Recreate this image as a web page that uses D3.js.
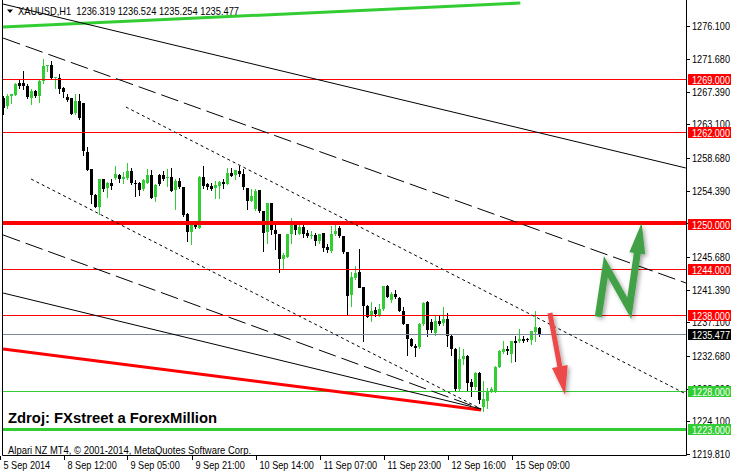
<!DOCTYPE html>
<html><head><meta charset="utf-8">
<script src="https://cdn.jsdelivr.net/npm/d3@7"></script>
<style>body{margin:0;background:#fff}svg{display:block}</style>
</head><body>
<svg id="c" width="734" height="475"></svg>
<script>
// ---- DATA ----
const symbolTitle = "XAUUSD,H1  1236.319 1236.524 1235.254 1235.477";
const sourceNote = "Zdroj: FXstreet a ForexMillion";
const footerNote = "Alpari NZ MT4, \u00A9 2001-2014, MetaQuotes Software Corp.";

const open = [1266.61,1265.51,1266.74,1267.04,1268.57,1268.49,1268.14,1266.61,1267.48,1266.83,
1268.79,1270.72,1270.89,1269.23,1269.23,1267.83,1266.69,1266.61,1264.55,1266.17,
1265.95,1259.52,1257.20,1253.83,1252.26,1255.89,1254.80,1255.45,1256.02,1256.46,
1255.98,1256.11,1256.98,1255.45,1255.45,1254.58,1255.45,1256.46,1253.48,1256.46,
1256.41,1256.11,1256.20,1254.45,1255.67,1254.88,1251.30,1248.98,1249.98,1249.55,
1256.20,1255.32,1255.02,1254.67,1255.02,1255.54,1255.23,1256.76,1256.41,1256.98,
1256.55,1254.80,1253.05,1251.96,1254.49,1251.74,1248.89,1252.74,1249.24,1248.67,
1245.39,1245.70,1248.67,1249.90,1248.76,1249.68,1248.89,1248.45,1248.54,1247.71,
1248.89,1247.01,1246.57,1248.67,1249.46,1248.45,1246.36,1240.58,1242.90,1243.73,
1241.76,1239.27,1237.96,1238.70,1237.96,1238.83,1241.89,1240.06,1240.80,1240.28,
1238.61,1236.86,1234.90,1234.02,1233.80,1236.86,1239.71,1237.08,1235.77,1237.30,
1236.95,1237.52,1235.33,1233.58,1228.33,1232.27,1232.71,1229.21,1228.55,1230.39,
1225.93,1226.80,1228.03,1228.03,1231.26,1233.15,1233.58,1232.93,1234.68,1234.68,
1234.89,1234.89,1234.76,1235.77,1236.319];
const high = [1266.83,1267.04,1267.13,1268.57,1268.88,1270.11,1268.36,1267.70,1267.61,1269.01,
1271.64,1270.85,1271.50,1269.32,1269.75,1268.01,1267.04,1266.61,1267.13,1267.04,
1265.95,1260.13,1257.20,1253.92,1255.89,1255.98,1255.54,1255.89,1257.64,1256.63,
1256.85,1257.99,1257.33,1255.80,1255.54,1255.89,1257.20,1257.11,1255.23,1256.55,
1256.98,1257.20,1257.42,1255.98,1256.11,1254.88,1251.52,1250.07,1250.42,1256.33,
1257.64,1255.37,1255.45,1255.67,1255.67,1255.89,1257.42,1257.42,1257.11,1257.64,
1257.20,1254.80,1254.58,1254.58,1254.49,1251.74,1252.83,1252.74,1249.99,1248.67,
1246.14,1248.76,1250.86,1249.99,1249.90,1249.86,1249.24,1249.11,1248.89,1248.76,
1248.89,1247.36,1249.77,1249.90,1249.77,1248.45,1246.36,1243.73,1244.52,1246.79,
1241.76,1239.40,1239.71,1239.05,1239.49,1241.89,1241.98,1241.02,1241.33,1240.36,
1239.10,1236.86,1235.03,1234.24,1236.95,1239.71,1239.84,1237.52,1237.96,1237.96,
1239.05,1238.26,1235.42,1233.67,1233.80,1233.58,1232.80,1229.65,1230.52,1230.52,
1229.43,1228.46,1228.55,1231.40,1233.45,1234.67,1234.02,1234.68,1235.33,1236.21,
1235.33,1235.00,1235.99,1238.52,1236.524];
const low = [1264.42,1265.29,1265.95,1266.96,1267.92,1267.70,1266.61,1265.82,1266.69,1266.08,
1268.57,1270.11,1269.01,1267.92,1267.26,1266.69,1266.17,1264.42,1264.42,1263.76,
1259.08,1257.11,1252.83,1252.26,1251.30,1254.36,1253.62,1254.58,1255.89,1255.54,
1255.45,1255.98,1255.23,1253.70,1253.79,1254.45,1255.37,1253.48,1253.05,1255.15,
1255.76,1255.02,1254.36,1251.95,1254.80,1251.08,1247.80,1247.36,1249.55,1249.46,
1254.80,1254.58,1254.45,1253.48,1253.48,1254.80,1255.23,1256.28,1255.89,1256.33,
1254.58,1252.04,1253.05,1251.82,1251.60,1246.49,1247.58,1248.67,1246.71,1243.64,
1244.08,1245.61,1247.58,1248.76,1248.67,1248.32,1248.32,1248.15,1247.23,1247.54,
1246.49,1246.36,1246.27,1248.54,1248.32,1246.20,1238.18,1239.27,1242.77,1241.68,
1234.68,1237.74,1237.30,1237.96,1237.87,1238.70,1240.36,1239.79,1240.23,1238.53,
1236.86,1232.80,1233.93,1232.71,1233.71,1236.73,1235.33,1235.77,1235.42,1236.73,
1236.73,1234.02,1232.84,1228.20,1228.20,1231.61,1228.12,1227.46,1228.33,1226.50,
1225.49,1225.84,1227.90,1227.90,1231.18,1233.01,1232.93,1231.83,1232.05,1234.55,
1234.55,1234.60,1234.24,1234.68,1235.254];
const close = [1265.29,1266.83,1267.04,1268.44,1268.14,1268.14,1266.69,1267.48,1266.83,1268.79,
1270.76,1270.85,1269.14,1269.32,1267.83,1267.26,1266.34,1264.55,1266.17,1263.98,
1259.61,1257.20,1253.83,1252.26,1255.89,1254.58,1255.45,1255.02,1256.55,1255.98,
1256.20,1256.98,1255.37,1255.37,1254.58,1255.80,1256.46,1253.48,1255.10,1255.23,
1255.89,1256.20,1254.36,1255.67,1254.88,1251.17,1248.98,1249.98,1249.55,1256.20,
1255.02,1254.88,1254.67,1255.10,1255.54,1255.23,1256.68,1256.41,1257.07,1256.55,
1254.80,1253.05,1253.70,1254.36,1251.74,1248.89,1252.74,1249.24,1248.67,1245.39,
1245.96,1248.67,1249.90,1249.20,1249.68,1248.76,1248.45,1248.54,1247.80,1248.67,
1246.92,1246.57,1248.76,1249.11,1248.37,1246.36,1240.58,1242.99,1243.56,1241.68,
1239.27,1237.83,1238.61,1238.18,1238.83,1241.89,1240.45,1240.80,1240.36,1238.61,
1236.86,1234.90,1234.02,1233.80,1236.86,1239.58,1235.99,1235.99,1237.30,1236.95,
1237.52,1235.33,1233.58,1228.33,1232.27,1232.71,1229.21,1228.55,1230.39,1226.90,
1227.02,1228.12,1228.33,1231.26,1233.36,1233.58,1233.28,1234.68,1234.46,1234.89,
1234.68,1234.76,1235.99,1236.43,1235.477];

const priceTicks = [1276.100,1271.680,1267.390,1263.100,1258.680,1254.390,1250.100,
  1245.680,1241.390,1237.100,1232.680,1228.390,1224.100,1219.810];
const timeLabels = ["5 Sep 2014","8 Sep 12:00","9 Sep 05:00","9 Sep 21:00","10 Sep 14:00",
  "11 Sep 07:00","11 Sep 23:00","12 Sep 16:00","15 Sep 09:00"];
const timeLabelBars = [-1,15,31,47,63,79,95,111,127];

const resistanceLevels = [1269.000,1262.000,1250.000,1244.000,1238.000];
const supportLevels = [1228.000,1223.000];
const lastPrice = 1235.477;

// trend lines: [barIndex, price] pairs
const trendSolidTop = [[-0.1,1278.92],[170.6,1257.37]];
const trendDashTop  = [[-0.1,1274.45],[170.6,1242.26]];
const trendDotTop   = [[30.6,1265.39],[170.6,1227.67]];
const trendRedLow   = [[-0.1,1233.59],[119.4,1225.57]];
const trendSolidLow = [[-0.1,1240.94],[119.4,1225.70]];
const trendDashLow  = [[-0.1,1248.57],[119.4,1225.70]];
const trendDotLow   = [[6.9,1255.92],[119.4,1225.70]];
const trendGreenTop = [[-0.1,1275.90],[129.2,1279.05]];

// hand-drawn arrows: [barIndex, price]; last point is the tip
const arrowUp   = [[148.7,1237.83],[150.6,1244.40],[156.45,1238.93],[159.55,1250.18]];
const arrowDown = [[136.6,1238.32],[140.4,1227.54]];

// ---- DRAW ----
const W = 734, H = 475;
const L = 2, R = 686, B = 456;
const x = d3.scaleLinear().domain([0, 170]).range([3.5, 683.5]);
const y = d3.scaleLinear().domain([1219.81, 1276.1]).range([453.8, 25.5]);

const svg = d3.select('#c');
svg.append('rect').attr('width', W).attr('height', H).attr('fill', '#fff');
const defs = svg.append('defs');
defs.append('clipPath').attr('id', 'clip').append('rect')
  .attr('x', L).attr('y', 0).attr('width', R - L).attr('height', B);
const flt = defs.append('filter').attr('id', 'sh')
  .attr('x', '-50%').attr('y', '-50%').attr('width', '200%').attr('height', '200%');
flt.append('feDropShadow').attr('dx', 2).attr('dy', 2).attr('stdDeviation', 2)
  .attr('flood-color', '#000').attr('flood-opacity', 0.35);

const g = svg.append('g').attr('clip-path', 'url(#clip)');

const bars = open.map((o, i) => ({ i, o, h: high[i], l: low[i], c: close[i] }));
const bull = '#32cd32';
g.selectAll(null).data(bars).enter().append('line')
  .attr('x1', d => x(d.i)).attr('x2', d => x(d.i))
  .attr('y1', d => Math.round(y(d.h))).attr('y2', d => Math.round(y(d.l)) + 1)
  .attr('stroke', d => d.c >= d.o ? bull : '#000').attr('stroke-width', 1);
g.selectAll(null).data(bars).enter().append('rect')
  .attr('x', d => x(d.i) - 1.5).attr('width', 3)
  .attr('y', d => Math.round(Math.min(y(d.o), y(d.c))))
  .attr('height', d => Math.max(1, Math.round(Math.abs(y(d.o) - y(d.c)))))
  .attr('fill', d => d.c >= d.o ? bull : '#000');

// horizontal levels
function hline(v, color) {
  const w = v === 1250 ? 4 : (v === 1223 ? 3 : 1);
  const yy = w === 1 ? Math.floor(y(v)) + 0.5 : y(v) - (v === 1250 ? 1 : 0);
  g.append('line').attr('x1', L).attr('x2', R).attr('y1', yy).attr('y2', yy)
    .attr('stroke', color).attr('stroke-width', w);
}
resistanceLevels.forEach(v => hline(v, '#ff0000'));
supportLevels.forEach(v => hline(v, '#32cd32'));
hline(lastPrice, '#778899');

// trend lines
const lineGen = d3.line().x(d => x(d[0])).y(d => y(d[1]));
function tline(pts, color, width, dash) {
  const p = g.append('path').attr('d', lineGen(pts)).attr('fill', 'none')
    .attr('stroke', color).attr('stroke-width', width);
  if (dash) p.attr('stroke-dasharray', dash);
}
tline(trendGreenTop, '#32cd32', 3);
tline(trendSolidTop, '#000', 1);
tline(trendDashTop, '#000', 1, '18,6');
tline(trendDotTop, '#000', 1, '3,3');
tline(trendRedLow, '#ff0000', 3);
tline(trendSolidLow, '#000', 1);
tline(trendDashLow, '#000', 1, '18,6');
tline(trendDotLow, '#000', 1, '3,3');

// arrows
function arrow(pts, color, sw, hl, hw) {
  const p = pts.map(d => [x(d[0]), y(d[1])]);
  const tip = p[p.length - 1], prev = p[p.length - 2];
  const dx = tip[0] - prev[0], dy = tip[1] - prev[1], len = Math.hypot(dx, dy);
  const ux = dx / len, uy = dy / len;
  const base = [tip[0] - ux * hl, tip[1] - uy * hl];
  const shaft = p.slice(0, -1).concat([[base[0] + ux * 2, base[1] + uy * 2]]);
  const a = g.append('g').attr('filter', 'url(#sh)');
  a.append('path').attr('d', d3.line()(shaft)).attr('fill', 'none')
    .attr('stroke', color).attr('stroke-width', sw).attr('stroke-linejoin', 'miter');
  a.append('path').attr('d', d3.line()([
      [base[0] - uy * hw, base[1] + ux * hw], tip, [base[0] + uy * hw, base[1] - ux * hw]]) + 'Z')
    .attr('fill', color);
}
arrow(arrowUp, '#43a047', 7, 31, 8);
arrow(arrowDown, '#ee4a4a', 5, 29, 8);

// frame
svg.append('path').attr('d', `M${L + 0.5},0V${B - 0.5}H${R + 0.5}V0`)
  .attr('fill', 'none').attr('stroke', '#000').attr('stroke-width', 1);

const font = "'Liberation Sans', Arial, sans-serif";
function fit(sel, k) {
  const n = sel.node().getComputedTextLength();
  sel.attr('textLength', n * k).attr('lengthAdjust', 'spacingAndGlyphs');
  return sel;
}
// price axis
const ax = svg.append('g');
const tagged = resistanceLevels.concat(supportLevels, [lastPrice]);
priceTicks.forEach(v => {
  const yy = Math.round(y(v));
  ax.append('line').attr('x1', R + 1).attr('x2', R + 4).attr('y1', yy + 0.5).attr('y2', yy + 0.5)
    .attr('stroke', '#000');
  if (tagged.some(t => Math.abs(y(t) - y(v)) < 2)) return; // fully hidden under a tag
  ax.append('text').attr('x', 692).attr('y', yy + 4).text(v.toFixed(3))
    .attr('font-family', font).attr('font-size', 10).attr('fill', '#000')
    .attr('textLength', 38).attr('lengthAdjust', 'spacingAndGlyphs');
});
function tag(v, bg) {
  const yy = Math.floor(y(v)) + 0.5;
  ax.append('rect').attr('x', 688).attr('y', yy - 5.5).attr('width', 43).attr('height', 11).attr('fill', bg);
  ax.append('text').attr('x', 692).attr('y', yy + 4).text(v.toFixed(3))
    .attr('font-family', font).attr('font-size', 10).attr('fill', '#fff')
    .attr('textLength', 38).attr('lengthAdjust', 'spacingAndGlyphs');
}
resistanceLevels.forEach(v => tag(v, '#ff0000'));
supportLevels.forEach(v => tag(v, '#32cd32'));
tag(lastPrice, '#000');

// time axis
timeLabels.forEach((t, k) => {
  const xx = Math.round(x(timeLabelBars[k])) + 0.5;
  svg.append('line').attr('x1', xx).attr('x2', xx).attr('y1', B).attr('y2', B + 4).attr('stroke', '#000');
  const tx = svg.append('text').attr('x', Math.max(3, xx + 3)).attr('y', 468.5).text(t)
    .attr('font-family', font).attr('font-size', 10.8).attr('fill', '#000');
  fit(tx, 0.845);
});

// captions
svg.append('path').attr('d', 'M7,9.5H13L10,13Z').attr('fill', '#000');
svg.append('text').attr('x', 18).attr('y', 14.5).text(symbolTitle)
  .attr('font-family', font).attr('font-size', 11).attr('fill', '#000')
  .attr('textLength', 221).attr('lengthAdjust', 'spacingAndGlyphs').style('white-space', 'pre');
svg.append('text').attr('x', 8).attr('y', 423).text(sourceNote)
  .attr('font-family', font).attr('font-weight', 'bold')
  .attr('font-size', 14).attr('fill', '#000')
  .attr('textLength', 209).attr('lengthAdjust', 'spacingAndGlyphs');
svg.append('text').attr('x', 8).attr('y', 453.5).text(footerNote)
  .attr('font-family', font).attr('font-size', 10.8).attr('fill', '#000')
  .attr('textLength', 243).attr('lengthAdjust', 'spacingAndGlyphs');
</script>
</body></html>
